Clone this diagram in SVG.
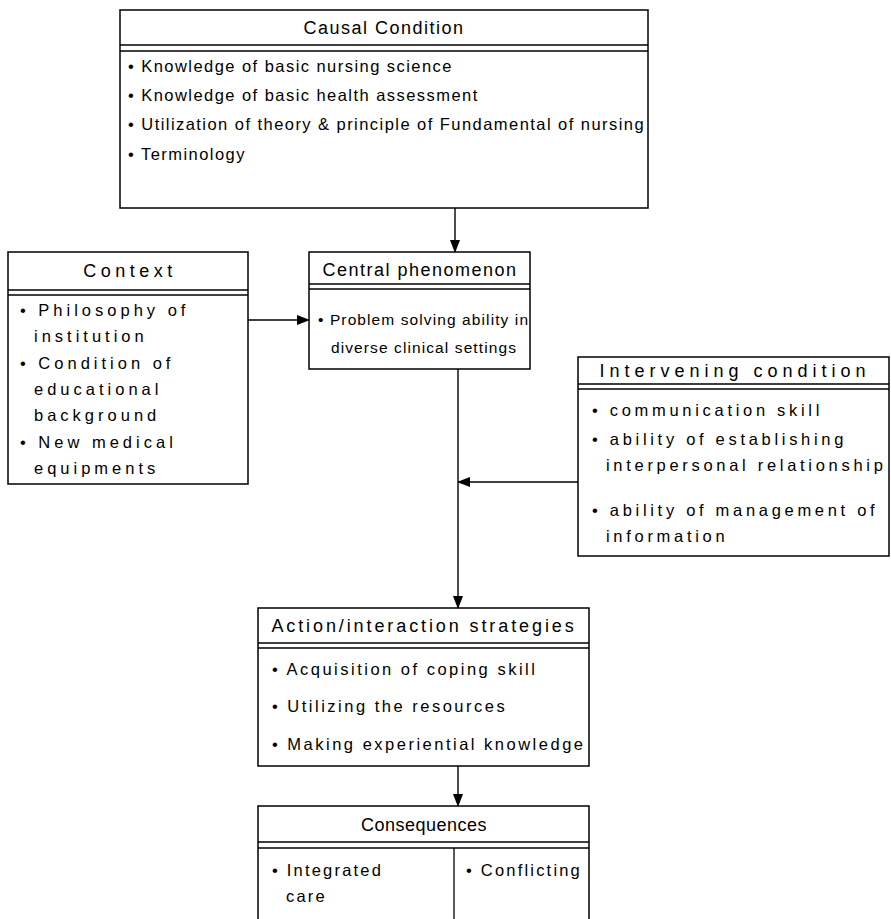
<svg xmlns="http://www.w3.org/2000/svg" width="891" height="919" viewBox="0 0 891 919">
<defs>
<marker id="ah" markerWidth="13" markerHeight="10" refX="12" refY="5" orient="auto" markerUnits="userSpaceOnUse">
<path d="M0,0 L13,5 L0,10 Z" fill="#000"/>
</marker>
<style>
rect.box{fill:#fff;stroke:#000;stroke-width:1.5}
line.hd{stroke:#000;stroke-width:1.3}
.t{font-family:"Liberation Sans",Arial,sans-serif;font-size:18px;letter-spacing:1.5px;fill:#000;text-anchor:middle}
.b{font-family:"Liberation Sans",Arial,sans-serif;font-size:16.5px;letter-spacing:2px;fill:#000}
#causal .b{letter-spacing:1.45px}
#context .t{letter-spacing:4.5px}
#context .b{letter-spacing:4px}
#central .b{font-size:15.5px;letter-spacing:1.1px}
#intervening .t{letter-spacing:5px}
#intervening .b{letter-spacing:3.7px}
#action .t{letter-spacing:2.9px}
#action .b{letter-spacing:2.5px}
#consequences .t{letter-spacing:0.5px}
#consequences .b{letter-spacing:2.2px}
.c line{stroke:#000;stroke-width:1.4;fill:none}
</style>
</defs>
<rect width="891" height="919" fill="#fff"/>

<g id="causal">
<rect class="box" x="120" y="10" width="528" height="198"/>
<line class="hd" x1="120" y1="45" x2="648" y2="45"/>
<line class="hd" x1="120" y1="51" x2="648" y2="51"/>
<text class="t" x="384" y="34">Causal Condition</text>
<text class="b" x="128" y="72">• Knowledge of basic nursing science</text>
<text class="b" x="128" y="101">• Knowledge of basic health assessment</text>
<text class="b" x="128" y="130">• Utilization of theory &amp; principle of  Fundamental of nursing</text>
<text class="b" x="128" y="160">• Terminology</text>
</g>

<g id="context">
<rect class="box" x="8" y="252" width="240" height="232"/>
<line class="hd" x1="8" y1="290" x2="248" y2="290"/>
<line class="hd" x1="8" y1="295" x2="248" y2="295"/>
<text class="t" x="130" y="277">Context</text>
<text class="b" x="20" y="316">• Philosophy of</text>
<text class="b" x="34" y="342">institution</text>
<text class="b" x="20" y="369">• Condition of</text>
<text class="b" x="34" y="395">educational</text>
<text class="b" x="34" y="421">background</text>
<text class="b" x="20" y="448">• New medical</text>
<text class="b" x="34" y="474">equipments</text>
</g>

<g id="central">
<rect class="box" x="309" y="252" width="221" height="117"/>
<line class="hd" x1="309" y1="284" x2="530" y2="284"/>
<line class="hd" x1="309" y1="289" x2="530" y2="289"/>
<text class="t" x="420" y="276">Central phenomenon</text>
<text class="b" x="318" y="325">• Problem solving ability in</text>
<text class="b" x="331" y="353">diverse clinical settings</text>
</g>

<g id="intervening">
<rect class="box" x="578" y="357" width="311" height="199"/>
<line class="hd" x1="578" y1="384" x2="889" y2="384"/>
<line class="hd" x1="578" y1="389" x2="889" y2="389"/>
<text class="t" x="735" y="377">Intervening condition</text>
<text class="b" x="592" y="416">• communication skill</text>
<text class="b" x="592" y="445">• ability of establishing</text>
<text class="b" x="606" y="471">interpersonal relationship</text>
<text class="b" x="592" y="516">• ability of management of</text>
<text class="b" x="606" y="542">information</text>
</g>

<g id="action">
<rect class="box" x="258" y="608" width="331" height="158"/>
<line class="hd" x1="258" y1="643" x2="589" y2="643"/>
<line class="hd" x1="258" y1="648" x2="589" y2="648"/>
<text class="t" x="424" y="632">Action/interaction strategies</text>
<text class="b" x="272" y="675">• Acquisition of coping skill</text>
<text class="b" x="272" y="712">• Utilizing the resources</text>
<text class="b" x="272" y="750">• Making experiential knowledge</text>
</g>

<g id="consequences">
<rect class="box" x="258" y="806" width="331" height="120"/>
<line class="hd" x1="258" y1="842" x2="589" y2="842"/>
<line class="hd" x1="258" y1="848" x2="589" y2="848"/>
<line class="hd" x1="454" y1="848" x2="454" y2="919"/>
<text class="t" x="424" y="831">Consequences</text>
<text class="b" x="272" y="876">• Integrated</text>
<text class="b" x="286" y="902">care</text>
<text class="b" x="466" y="876">• Conflicting</text>
</g>

<g id="connectors" class="c">
<line x1="455" y1="208" x2="455" y2="252" marker-end="url(#ah)"/>
<line x1="248" y1="320" x2="309" y2="320" marker-end="url(#ah)"/>
<line x1="458" y1="369" x2="458" y2="608" marker-end="url(#ah)"/>
<line x1="578" y1="482" x2="458" y2="482" marker-end="url(#ah)"/>
<line x1="458" y1="766" x2="458" y2="806" marker-end="url(#ah)"/>
</g>
</svg>
